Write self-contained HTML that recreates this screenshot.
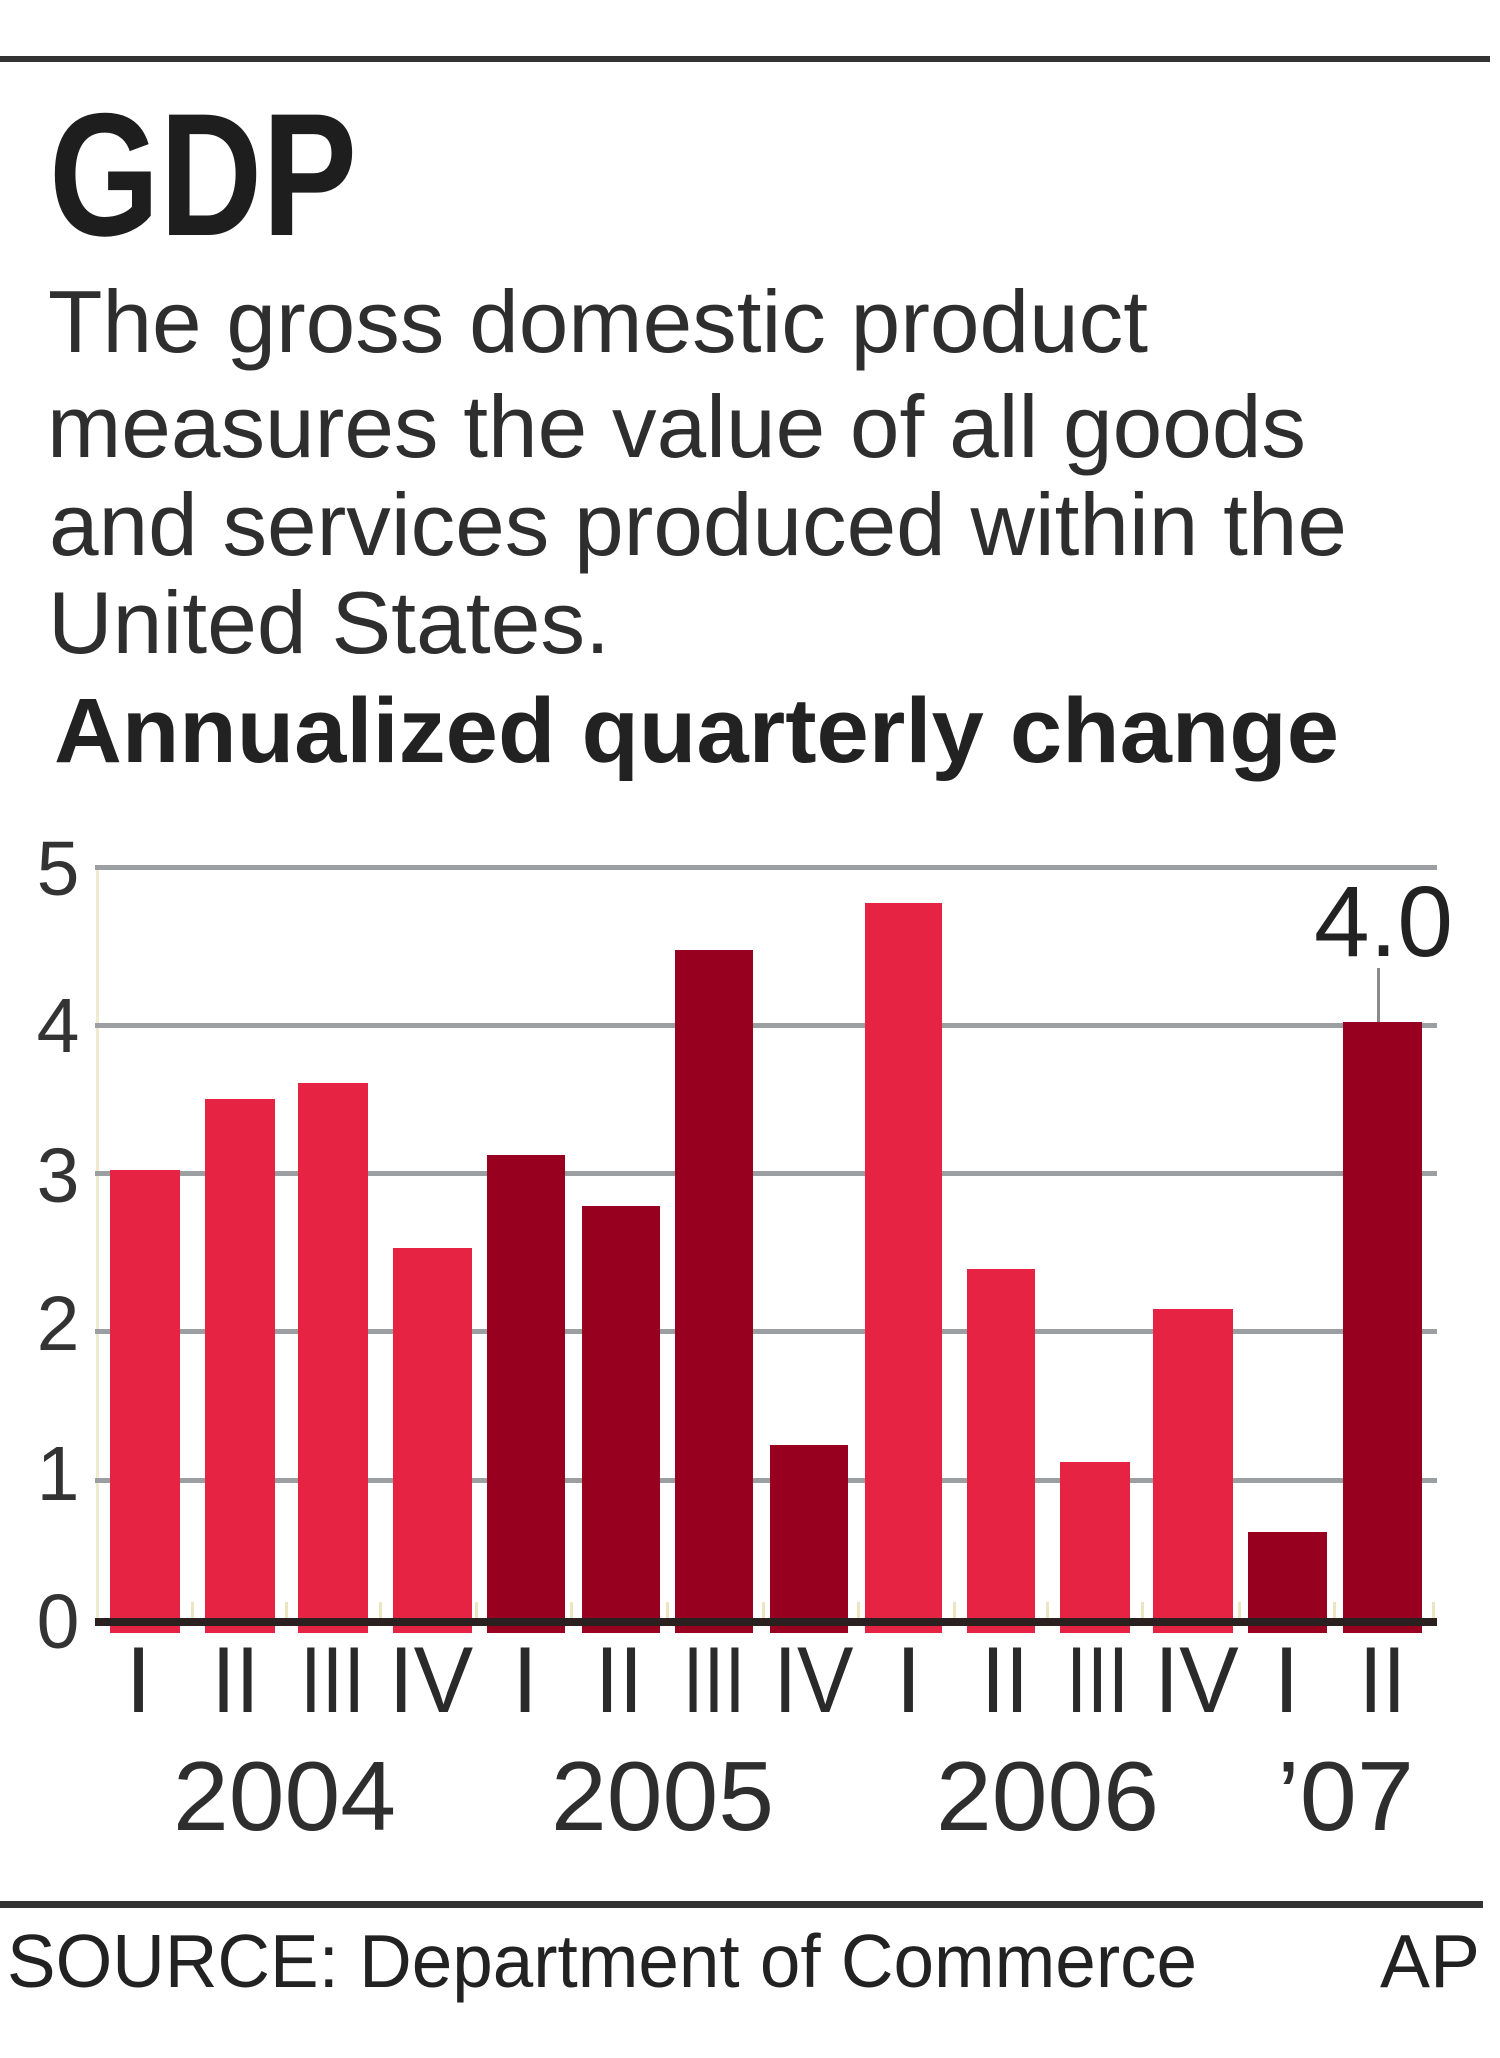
<!DOCTYPE html>
<html>
<head>
<meta charset="utf-8">
<style>
html,body{margin:0;padding:0;background:#fff;}
svg{display:block;}
</style>
</head>
<body>
<svg width="1500" height="2058" viewBox="0 0 1500 2058" xmlns="http://www.w3.org/2000/svg" font-family="'Liberation Sans', Arial, sans-serif">
  <rect x="0" y="0" width="1500" height="2058" fill="#ffffff"/>

  <!-- top rule -->
  <rect x="0" y="56" width="1490" height="6" fill="#333333"/>

  <!-- title -->
  <text x="49" y="235" font-size="175" font-weight="bold" fill="#1e1e1e" textLength="308" lengthAdjust="spacingAndGlyphs">GDP</text>

  <!-- description -->
  <g font-size="88" fill="#2e2e2e">
    <text x="48" y="352" textLength="1100" lengthAdjust="spacingAndGlyphs">The gross domestic product</text>
    <text x="47" y="457" textLength="1259" lengthAdjust="spacingAndGlyphs">measures the value of all goods</text>
    <text x="49" y="555" textLength="1298" lengthAdjust="spacingAndGlyphs">and services produced within the</text>
    <text x="48" y="653" textLength="562" lengthAdjust="spacingAndGlyphs">United States.</text>
  </g>
  <text x="54" y="762" font-size="92" font-weight="bold" fill="#222222" textLength="1285" lengthAdjust="spacingAndGlyphs">Annualized quarterly change</text>

  <!-- axis vertical pale line -->
  <rect x="96" y="868" width="3" height="754" fill="#efebcf"/>

  <!-- gridlines -->
  <g fill="#9c9fa1">
    <rect x="95" y="865" width="1342" height="5"/>
    <rect x="95" y="1023" width="1342" height="5"/>
    <rect x="95" y="1171" width="1342" height="5"/>
    <rect x="95" y="1329" width="1342" height="5"/>
    <rect x="95" y="1478" width="1342" height="5"/>
  </g>

  <!-- y tick labels -->
  <g font-size="77" fill="#333333" text-anchor="middle">
    <text x="58" y="895">5</text>
    <text x="58" y="1052">4</text>
    <text x="58" y="1202">3</text>
    <text x="58" y="1350">2</text>
    <text x="58" y="1500">1</text>
    <text x="58" y="1648">0</text>
  </g>

  <!-- pale category ticks -->
  <g fill="#ebe5c2">
    <rect x="191" y="1602" width="3" height="18"/>
    <rect x="285" y="1602" width="3" height="18"/>
    <rect x="379" y="1602" width="3" height="18"/>
    <rect x="475" y="1602" width="3" height="18"/>
    <rect x="570" y="1602" width="3" height="18"/>
    <rect x="666" y="1602" width="3" height="18"/>
    <rect x="762" y="1602" width="3" height="18"/>
    <rect x="857" y="1602" width="3" height="18"/>
    <rect x="953" y="1602" width="3" height="18"/>
    <rect x="1046" y="1602" width="3" height="18"/>
    <rect x="1141" y="1602" width="3" height="18"/>
    <rect x="1238" y="1602" width="3" height="18"/>
    <rect x="1333" y="1602" width="3" height="18"/>
    <rect x="1432" y="1602" width="3" height="18"/>
  </g>

  <!-- bars -->
  <g>
    <rect x="110" y="1170" width="70" height="463" fill="#e62342"/>
    <rect x="205" y="1099" width="70" height="534" fill="#e62342"/>
    <rect x="298" y="1083" width="70" height="550" fill="#e62342"/>
    <rect x="393" y="1248" width="79" height="385" fill="#e62342"/>
    <rect x="487" y="1155" width="78" height="478" fill="#980020"/>
    <rect x="582" y="1206" width="78" height="427" fill="#980020"/>
    <rect x="675" y="950" width="78" height="683" fill="#980020"/>
    <rect x="770" y="1445" width="78" height="188" fill="#980020"/>
    <rect x="865" y="903" width="77" height="730" fill="#e62342"/>
    <rect x="967" y="1269" width="68" height="364" fill="#e62342"/>
    <rect x="1060" y="1462" width="70" height="171" fill="#e62342"/>
    <rect x="1153" y="1309" width="80" height="324" fill="#e62342"/>
    <rect x="1248" y="1532" width="79" height="101" fill="#980020"/>
    <rect x="1343" y="1022" width="79" height="611" fill="#980020"/>
  </g>

  <!-- zero line -->
  <rect x="95" y="1618" width="1342" height="8" fill="#2b2020"/>

  <!-- value label -->
  <text x="1314" y="956" font-size="100" fill="#222222">4.0</text>
  <rect x="1377" y="968" width="3" height="54" fill="#8a8a8a"/>

  <!-- quarter labels -->
  <g font-size="94" fill="#2a2a2a" text-anchor="middle">
    <text transform="translate(138.5,1712)">I</text>
    <text transform="translate(235.5,1712) scale(0.92,1)">II</text>
    <text transform="translate(332.5,1712) scale(0.83,1)">III</text>
    <text transform="translate(431,1712) scale(0.95,1)">IV</text>

    <text transform="translate(525,1712)">I</text>
    <text transform="translate(619,1712) scale(0.92,1)">II</text>
    <text transform="translate(714,1712) scale(0.80,1)">III</text>
    <text transform="translate(813.5,1712) scale(0.9,1)">IV</text>

    <text transform="translate(908.5,1712)">I</text>
    <text transform="translate(1005,1712) scale(0.92,1)">II</text>
    <text transform="translate(1097.5,1712) scale(0.80,1)">III</text>
    <text transform="translate(1196.5,1712) scale(0.95,1)">IV</text>

    <text transform="translate(1286.5,1712)">I</text>
    <text transform="translate(1382.5,1712) scale(0.9,1)">II</text>
  </g>

  <!-- year labels -->
  <g font-size="98" fill="#2e2e2e">
    <text x="173" y="1830" textLength="223" lengthAdjust="spacingAndGlyphs">2004</text>
    <text x="551" y="1830" textLength="223" lengthAdjust="spacingAndGlyphs">2005</text>
    <text x="936" y="1830" textLength="223" lengthAdjust="spacingAndGlyphs">2006</text>
    <text x="1277" y="1830" textLength="137" lengthAdjust="spacingAndGlyphs">’07</text>
  </g>

  <!-- bottom rule -->
  <rect x="0" y="1901" width="1483" height="7" fill="#333333"/>

  <!-- source -->
  <text x="7" y="1987" font-size="75" fill="#222222" textLength="1190" lengthAdjust="spacingAndGlyphs">SOURCE: Department of Commerce</text>
  <text x="1380" y="1987" font-size="75" fill="#222222" textLength="100" lengthAdjust="spacingAndGlyphs">AP</text>
</svg>
</body>
</html>
